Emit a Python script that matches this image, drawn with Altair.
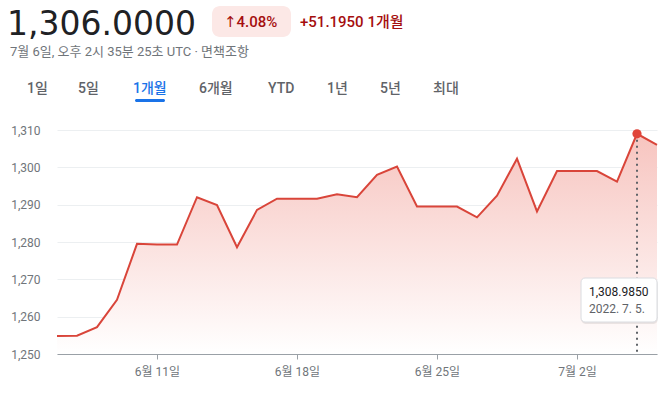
import altair as alt
import pandas as pd

# ---- data ----
DATES = pd.date_range("2022-06-06", "2022-07-06", freq="D").strftime("%Y-%m-%d").tolist()
VALUES = [1254.805, 1254.9, 1257.2, 1264.5, 1279.5, 1279.3, 1279.3,
          1292.0, 1289.9, 1278.6, 1288.6, 1291.6, 1291.6, 1291.6,
          1292.8, 1292.0, 1298.0, 1300.2, 1289.5, 1289.5, 1289.5,
          1286.6, 1292.4, 1302.3, 1288.2, 1299.0, 1299.0, 1299.0,
          1296.2, 1308.985, 1306.0]
TICK_DATES = [(6, 11), (6, 18), (6, 25), (7, 2)]
Y_TICKS = [1250, 1260, 1270, 1280, 1290, 1300, 1310]
HOVER_DATE = "2022-07-05"
HOVER_VALUE = 1308.985
TABS = ["1일", "5일", "1개월", "6개월", "YTD", "1년", "5년", "최대"]
SELECTED_TAB = "1개월"

df = pd.DataFrame({"date": DATES, "value": VALUES})
hover = pd.DataFrame({"date": [HOVER_DATE], "value": [HOVER_VALUE]})

FONT = "Roboto, 'Noto Sans CJK KR', sans-serif"
RED = "#d9453a"

xscale = alt.Scale(type="utc", domain=["2022-06-06", "2022-07-06"])
yscale = alt.Scale(domain=[1250, 1310], nice=False, zero=False)

xaxis = alt.Axis(title=None,
                 values=[alt.DateTime(year=2022, month=m, date=d, utc=True) for m, d in TICK_DATES],
                 labelExpr="(utcmonth(datum.value)+1) + '월 ' + utcdate(datum.value) + '일'",
                 grid=False, domainColor="#9aa0a6", tickColor="#9aa0a6",
                 tickSize=5, labelPadding=7, labelFont=FONT, labelFontSize=12,
                 labelColor="#70757a", labelOverlap=False)
yaxis = alt.Axis(title=None, values=Y_TICKS, tickCount=7, format=",d", ticks=False, domain=False,
                 gridColor="#eceff1", labelPadding=17, labelFont=FONT,
                 labelFontSize=12, labelColor="#70757a", labelOverlap=False,
                 labelFlush=False)
xenc = alt.X("date:T", scale=xscale, axis=xaxis)
yenc = alt.Y("value:Q", scale=yscale, axis=yaxis)

base = alt.Chart(df)
area = base.mark_area(
    color=alt.Gradient(gradient="linear",
                       stops=[alt.GradientStop(color="#f7c4bf", offset=0),
                              alt.GradientStop(color="#ffffff", offset=1)],
                       x1=1, x2=1, y1=0, y2=1)
).encode(x=xenc, y=yenc, y2=alt.datum(1250))
line = base.mark_line(color=RED, strokeWidth=2).encode(x=xenc, y=yenc)

hb = alt.Chart(hover)
rule = hb.mark_rule(color="#5f6368", strokeWidth=2, strokeDash=[2, 4]).encode(
    x=xenc, y=yenc, y2=alt.datum(1250))
point = hb.mark_circle(color="#e0453a", size=85, opacity=1).encode(x=xenc, y=yenc)

one = alt.Data(values=[{}])

def txt(s, x, y, size=12, color="#202124", weight="normal", font=FONT, baseline="middle"):
    return alt.Chart(one).mark_text(text=s, align="left", baseline=baseline, fontSize=size,
                                    color=color, fontWeight=weight, font=font).encode(
        x=alt.value(x), y=alt.value(y))

def box(x, x2, y, y2, fill, r=0, stroke=None, opacity=1):
    kw = dict(fill=fill, cornerRadius=r, opacity=opacity)
    if stroke:
        kw.update(stroke=stroke, strokeWidth=1)
    return alt.Chart(one).mark_rect(**kw).encode(
        x=alt.value(x), x2=alt.value(x2), y=alt.value(y), y2=alt.value(y2))

layers = [area, line, rule, point]

# tooltip
layers += [box(524, 601, 149, 194, "#000000", r=5, opacity=0.08),
           box(524, 600, 148, 192, "#ffffff", r=4, stroke="#dadce0"),
           txt("1,308.9850", 532, 162, size=12, color="#202124"),
           txt("2022. 7. 5.", 532, 179, size=12, color="#5f6368")]

# header
layers += [txt("1,306.0000", -50, -95, size=33, color="#202124", font="DejaVu Sans",
               baseline="alphabetic"),
           box(155, 234, -124, -93, "#fce8e6", r=8),
           txt("↑4.08%", 167, -108, size=15, color="#a50e0e", weight=500,
               font="Roboto, 'DejaVu Sans'"),
           txt("+51.1950 1개월", 243, -108, size=15, color="#a50e0e", weight=500),
           txt("7월 6일, 오후 2시 35분 25초 UTC · 면책조항", -47, -78, size=13, color="#70757a")]

TAB_X = [-30, 21, 76, 142, 211, 270, 323, 376]
for t, tx in zip(TABS, TAB_X):
    sel = t == SELECTED_TAB
    layers.append(txt(t, tx, -41, size=14, color="#1a73e8" if sel else "#5f6368", weight=500))
layers.append(box(78, 108, -31, -28, "#1a73e8", r=1.5))

chart = alt.layer(*layers).properties(
    width=600, height=224,
    autosize=alt.AutoSizeParams(type="none"),
    padding={"left": 57, "top": 130, "right": 8, "bottom": 40},
    background="#ffffff",
).configure_view(stroke=None)

chart.save("out.html", embed_options={"renderer": "svg", "actions": False})
